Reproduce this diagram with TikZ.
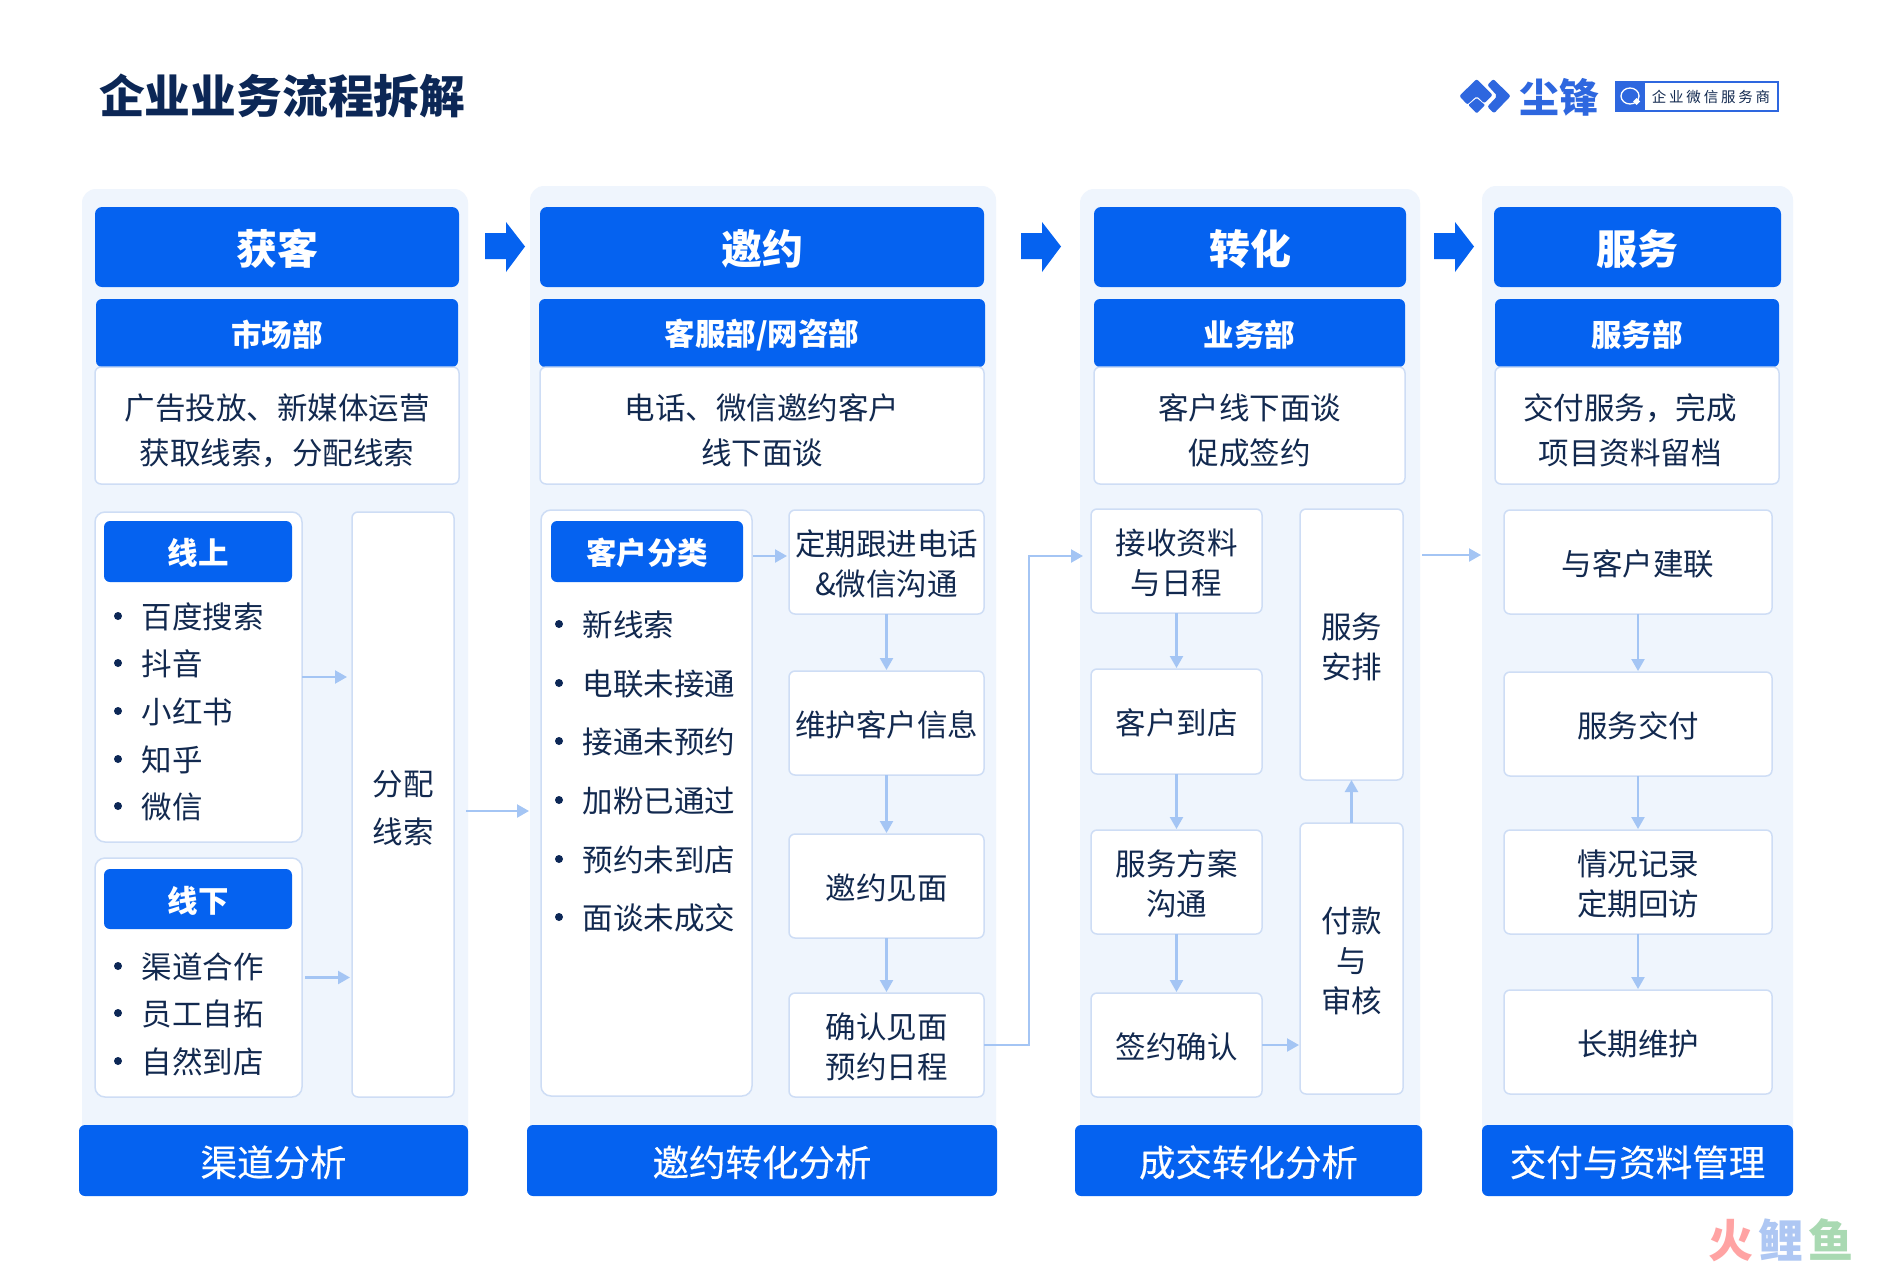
\documentclass[tikz,border=0pt]{standalone}
\usepackage{fontspec}
\setmainfont{Noto Sans CJK SC}
\newfontfamily\medf[FakeBold=0.35]{Noto Sans CJK SC}
\usetikzlibrary{arrows.meta,calc}
\definecolor{panelc}{HTML}{EFF5FD}
\definecolor{bluec}{HTML}{0562F0}
\definecolor{borderc}{HTML}{CEDDF5}
\definecolor{arrowc}{HTML}{A4C5F4}
\definecolor{darkc}{HTML}{12294F}
\definecolor{titlec}{HTML}{0C2756}
\definecolor{logoc}{HTML}{2E67DF}
\definecolor{wmr}{HTML}{FFA3A3}
\definecolor{wmb}{HTML}{AEC7F3}
\definecolor{wmg}{HTML}{A9D9B2}
\newcommand{\emstrut}{\rule[-.12em]{0pt}{1em}}
\newcommand{\topstrut}{\rule[-.12em]{0pt}{1.10em}}
\newcommand{\itemstrut}{\rule[-.12em]{0pt}{1.06em}}
\newcommand{\mt}{\rule{0pt}{31.6pt}}
\newcommand{\bx}[7]{%
  \pgfmathsetmacro\bxw{#5-#3}\pgfmathsetmacro\bxh{#6-#4}%
  \node[#1,minimum width=\bxw pt,minimum height=\bxh pt] (#2) at ({(#3+#5)/2},{(#4+#6)/2}) {#7};}
\newcommand{\bigarrow}[2]{%
  \fill[bluec] (#2,233) -- ++(21,0) -- (#2+21,222) -- (#2+40,246.5) -- (#2+21,272) -- (#2+21,259) -- (#2,259) -- cycle;}
\tikzset{
  plain/.style={inner sep=0pt,outer sep=0pt,align=center,execute at end node=\emstrut},
  base/.style={plain,execute at begin node=\topstrut},
  panel/.style={base,fill=panelc,rounded corners=14pt},
  hdr/.style={base,fill=bluec,text=white,rounded corners=7pt,font=\fontsize{41}{48}\selectfont\bfseries},
  dept/.style={base,fill=bluec,text=white,rounded corners=6pt,font=\fontsize{30.5}{40}\selectfont\bfseries},
  sub/.style={base,fill=bluec,text=white,rounded corners=6pt,font=\fontsize{30.5}{40}\selectfont\bfseries},
  foot/.style={base,fill=bluec,text=white,rounded corners=6pt,font=\fontsize{36.5}{44}\selectfont\medf},
  card/.style={base,fill=white,draw=borderc,line width=1.5pt,rounded corners=6pt,text=darkc,font=\fontsize{30.5}{40}\selectfont},
  bigcard/.style={card,rounded corners=10pt},
  item/.style={plain,execute at begin node=\itemstrut,anchor=west,text=darkc,font=\fontsize{30.5}{40}\selectfont},
  dot/.style={circle,fill=titlec,minimum size=8pt,inner sep=0pt,outer sep=0pt},
  conn/.style={draw=arrowc,line width=2.2pt,-{Triangle[length=12pt,width=13pt]}}
}
\begin{document}
\begin{tikzpicture}[x=1pt,y=-1pt]
\useasboundingbox[fill=white] (0,0) rectangle (1877,1264);

% title
\node[base,anchor=west,text=titlec,font=\fontsize{45.8}{54}\selectfont\bfseries] (title) at (99,93.7) {企业业务流程拆解};

% logo
\begin{scope}[shift={(1450,70)},x=0.3333pt,y=-0.3333pt]
  \fill[logoc,rounded corners=2pt] (28,78) -- (80,27) -- (128,75) -- (103,100) -- (80,78) -- (52,104) -- cycle;
  \fill[logoc,rounded corners=2pt] (112,45) -- (130,27) -- (182,78) -- (132,130) -- (112,110) -- (142,78) -- cycle;
  \fill[logoc,rounded corners=1pt] (55,105) -- (80,84) -- (105,105) -- (80,130) -- cycle;
\end{scope}
\node[base,text=logoc,font=\fontsize{40}{44}\selectfont\bfseries] (brand) at (1559,95) {尘锋};
\node[base,draw=logoc,line width=1.5pt,fill=white,minimum width=162pt,minimum height=29pt] (badge) at (1697,96.5) {};
\fill[logoc] (1616,82) rectangle (1645,111);
\draw[white,line width=1.3pt] (1630,96) ellipse [x radius=9,y radius=8];
\fill[white] (1636.5,98) -- (1640,101.5) -- (1636.5,105) -- (1633,101.5) -- cycle;
\node[base,text=darkc,font=\fontsize{14.5}{16}\selectfont] (badgetxt) at (1711,96.3) {企\kern2.8pt 业\kern2.8pt 微\kern2.8pt 信\kern2.8pt 服\kern2.8pt 务\kern2.8pt 商};

% panels
\bx{panel}{p1}{82}{189}{468}{1140}{}
\bx{panel}{p2}{530}{186}{996}{1140}{}
\bx{panel}{p3}{1080}{189}{1420}{1140}{}
\bx{panel}{p4}{1482}{186}{1793}{1140}{}

% footers
\bx{foot}{f1}{79}{1125}{468}{1196}{渠道分析}
\bx{foot}{f2}{527}{1125}{997}{1196}{邀约转化分析}
\bx{foot}{f3}{1075}{1125}{1422}{1196}{成交转化分析}
\bx{foot}{f4}{1482}{1125}{1793}{1196}{交付与资料管理}

% phase headers
\bx{hdr}{h1}{95}{207}{459}{287}{获客}
\bx{hdr}{h2}{540}{207}{984}{287}{邀约}
\bx{hdr}{h3}{1094}{207}{1406}{287}{转化}
\bx{hdr}{h4}{1494}{207}{1781}{287}{服务}

% departments
\bx{dept}{g1}{96}{299}{458}{367}{市场部}
\bx{dept}{g2}{539}{299}{985}{367}{客服部/网咨部}
\bx{dept}{g3}{1094}{299}{1405}{367}{业务部}
\bx{dept}{g4}{1495}{299}{1779}{367}{服务部}

% descriptions
\bx{card}{e1}{95}{367}{459}{484}{\rule{0pt}{36pt}广告投放、新媒体运营\\[5pt]获取线索，分配线索}
\bx{card}{e2}{540}{367}{984}{484}{\rule{0pt}{36pt}电话、微信邀约客户\\[5pt]线下面谈}
\bx{card}{e3}{1094}{367}{1405}{484}{\rule{0pt}{36pt}客户线下面谈\\[5pt]促成签约}
\bx{card}{e4}{1495}{367}{1779}{484}{\rule{0pt}{36pt}交付服务，完成\hspace*{14pt}\\[5pt]项目资料留档\hspace*{14pt}}

% big arrows
\bigarrow{a1}{485}
\bigarrow{a2}{1021}
\bigarrow{a3}{1434}

% panel 1 body
\bx{bigcard}{on}{95}{512}{302}{842}{}
\bx{bigcard}{off}{95}{858}{302}{1097}{}
\bx{sub}{onh}{104}{521}{292}{582}{线上}
\bx{sub}{offh}{104}{869}{292}{929}{线下}
\bx{card}{fp}{352}{512}{454}{1097}{\rule{0pt}{34pt}分配\\[8pt]线索}
\foreach \nm/\yy/\tx in {a/616/百度搜索,b/663/抖音,c/711/小红书,d/759/知乎,e/806/微信,f/966/渠道合作,g/1013/员工自拓,h/1061/自然到店}{
  \node[dot] (d\nm) at (118,\yy) {};
  \node[item] (t\nm) at (141.5,\yy) {\tx};
}

% panel 2 body
\bx{bigcard}{cat}{541}{510}{752}{1096}{}
\bx{sub}{cath}{551}{521}{743}{582}{客户分类}
\foreach \nm/\yy/\tx in {i/624/新线索,j/683/电联未接通,k/741/接通未预约,l/800/加粉已通过,m/859/预约未到店,n/917/面谈未成交}{
  \node[dot] (d\nm) at (559,\yy) {};
  \node[item] (t\nm) at (582.5,\yy) {\tx};
}
\bx{card}{d1}{789}{510}{984}{614}{\mt 定期跟进电话\\\&微信沟通}
\bx{card}{d2}{789}{671}{984}{775}{维护客户信息}
\bx{card}{d3}{789}{834}{984}{938}{邀约见面}
\bx{card}{d4}{789}{993}{984}{1097}{\mt 确认见面\\预约日程}

% panel 3 body
\bx{card}{k1}{1091}{509}{1262}{613}{\mt 接收资料\\与日程}
\bx{card}{k2}{1091}{669}{1262}{774}{客户到店}
\bx{card}{k3}{1091}{830}{1262}{934}{\mt 服务方案\\沟通}
\bx{card}{k4}{1091}{993}{1262}{1097}{签约确认}
\bx{card}{svc}{1300}{509}{1403}{780}{\mt 服务\\安排}
\bx{card}{pay}{1300}{823}{1403}{1094}{\mt 付款\\与\\审核}

% panel 4 body
\bx{card}{s1}{1504}{510}{1772}{614}{与客户建联}
\bx{card}{s2}{1504}{672}{1772}{776}{服务交付}
\bx{card}{s3}{1504}{830}{1772}{934}{\mt 情况记录\\定期回访}
\bx{card}{s4}{1504}{990}{1772}{1094}{长期维护}

% connector helpers
\coordinate (c12) at (0,811);
\coordinate (c23) at (0,556);
\coordinate (r1) at (1029,556);
\coordinate (c34) at (0,555);

% connectors
\draw[conn,shorten >=5pt] (on.east) -- (fp.west |- on.east);
\draw[conn,shorten <=3pt,shorten >=2pt] (off.east) -- (fp.west |- off.east);
\draw[conn,shorten <=-2pt,shorten >=1pt] (p1.east |- c12) -- (p2.west |- c12);
\draw[conn,shorten <=1pt,shorten >=2pt] (cat.east |- c23) -- (d1.west |- c23);
\draw[conn,shorten >=1pt] (d1.south) -- (d2.north);
\draw[conn,shorten >=1pt] (d2.south) -- (d3.north);
\draw[conn,shorten >=1pt] (d3.south) -- (d4.north);
\draw[conn,shorten >=8pt] (d4.east) -| (r1) -- (k1.west |- r1);
\draw[conn,shorten >=1pt] (k1.south) -- (k2.north);
\draw[conn,shorten >=1pt] (k2.south) -- (k3.north);
\draw[conn,shorten >=1pt] (k3.south) -- (k4.north);
\draw[conn,shorten >=1pt] (k4.east) -- (pay.west |- k4.east);
\draw[conn] (pay.north) -- (svc.south);
\draw[conn,shorten <=2pt,shorten >=1pt] (p3.east |- c34) -- (p4.west |- c34);
\draw[conn,shorten >=1pt] (s1.south) -- (s2.north);
\draw[conn,shorten >=1pt] (s2.south) -- (s3.north);
\draw[conn,shorten >=1pt] (s3.south) -- (s4.north);

% watermark
\node[base,font=\fontsize{45}{50}\selectfont\bfseries] (wm) at (1781,1238) {{\color{wmr}火}\kern5pt{\color{wmb}鲤}\kern5pt{\color{wmg}鱼}};
\end{tikzpicture}
\end{document}
